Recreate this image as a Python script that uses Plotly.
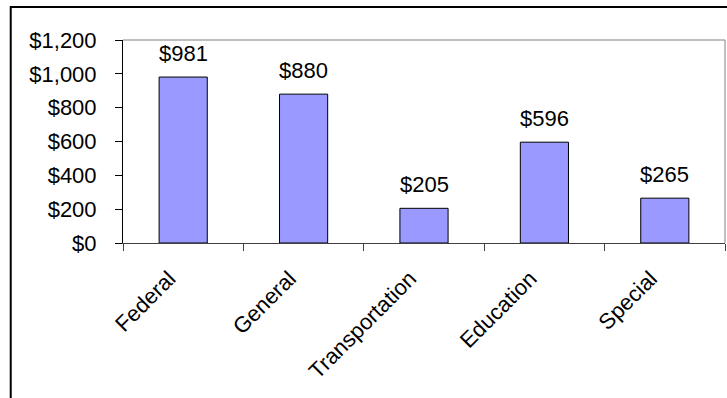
import plotly.graph_objects as go

categories = ["Federal", "General", "Transportation", "Education", "Special"]
values = [981, 880, 205, 596, 265]
y_ticks = [0, 200, 400, 600, 800, 1000, 1200]
y_tick_labels = ["$0", "$200", "$400", "$600", "$800", "$1,000", "$1,200"]

FONT = "Liberation Sans, Arial, sans-serif"
FS = 22

fig = go.Figure(
    go.Bar(
        x=categories,
        y=values,
        width=0.4,
        marker=dict(color="#9999FF", line=dict(color="black", width=1)),
        hoverinfo="skip",
    )
)

# value labels above each bar
for c, v in zip(categories, values):
    fig.add_annotation(
        x=c, y=v, text=f"${v:,}", showarrow=False,
        yanchor="bottom", yshift=9,
        font=dict(family=FONT, size=FS, color="black"),
    )

# plot-area frame (top and right edges)
fig.add_shape(type="line", xref="paper", yref="paper", x0=0, x1=1, y0=1, y1=1,
              line=dict(color="#808080", width=1))
fig.add_shape(type="line", xref="paper", yref="paper", x0=1, x1=1, y0=0, y1=1,
              line=dict(color="#808080", width=1))
# outer chart border
fig.add_shape(type="rect", xref="paper", yref="paper",
              x0=-0.1865, x1=1.05, y0=-1.0, y1=1.1626,
              line=dict(color="black", width=2), layer="below")

fig.update_layout(
    width=727, height=398,
    margin=dict(l=123, r=2, t=40, b=155),
    paper_bgcolor="white", plot_bgcolor="white",
    showlegend=False,
    font=dict(family=FONT, size=FS, color="black"),
    bargap=0.6,
)
fig.update_xaxes(
    tickangle=-45, tickson="boundaries", ticks="outside", ticklen=7,
    tickcolor="#404040", showline=True, linecolor="#404040", linewidth=1,
    showgrid=False, tickfont=dict(family=FONT, size=FS),
    ticklabelshift=-14, ticklabelstandoff=13,
)
fig.update_yaxes(
    range=[0, 1200], tickvals=y_ticks, ticktext=y_tick_labels,
    ticks="outside", ticklen=7, tickcolor="black",
    showline=True, linecolor="black", linewidth=1,
    showgrid=False, zeroline=False, ticklabelstandoff=14,
    tickfont=dict(family=FONT, size=FS),
)

fig.write_html("out.html")
